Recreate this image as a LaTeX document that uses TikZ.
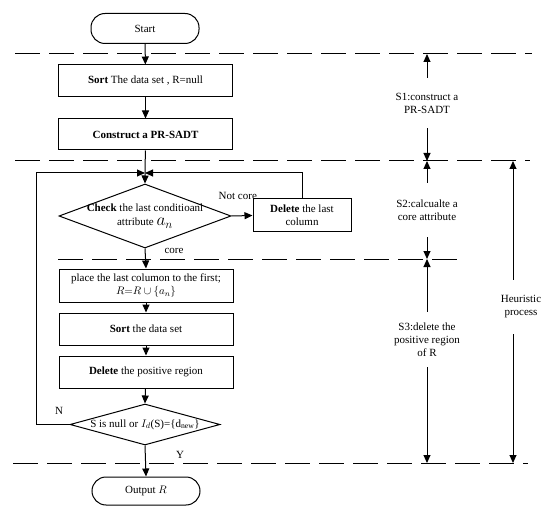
\documentclass[tikz,border=0pt]{standalone}
\usepackage{fontspec}
\setmainfont{Liberation Serif}
\usetikzlibrary{positioning, arrows.meta, shapes.geometric, calc}

\begin{document}
\begin{tikzpicture}[x=1pt, y=-1pt,
    every node/.style={font=\fontsize{11}{13}\selectfont},
    term/.style={draw, line width=1pt, rounded corners=14pt, minimum width=108pt, minimum height=30pt},
    proc/.style={draw, line width=1pt, minimum width=174pt, minimum height=32pt,
                 align=center, inner sep=1pt},
    decide/.style={draw, diamond, line width=1pt, inner sep=0pt},
    dtext/.style={align=center, inner sep=0pt},
    arr/.style={-{Triangle[length=8pt, width=7pt]}, line width=1pt},
    sepline/.style={line width=1pt, dash pattern=on 25pt off 9pt},
    ann/.style={align=center, inner sep=0pt},
    edgelbl/.style={inner sep=1pt},
]
\useasboundingbox (0,0) rectangle (550,519);

% Main flow
\node[term] (start) at (145,28.5) {Start};
\node[proc] (sort1) at (145.5,81) {\textbf{Sort} The data set , R=null};
\node[proc, minimum height=31pt] (build) at (145.5,134.5) {\textbf{Construct a PR-SADT}};

% Core check
\node[decide, minimum width=172pt, minimum height=64pt,
      label={[dtext]center:{\textbf{Check} the last conditioanl\\[1pt] attribute {\LARGE$a_n$}}}]
  (chk) at (145,216) {};
\node[proc, minimum width=98pt, minimum height=33pt] (dcol) at (302,215.5)
  {\textbf{Delete} the last\\ column};

% Positive region
\node[proc, minimum height=33pt] (place) at (146,285.5)
  {place the last columon to the first;\\ $R{=}R\cup\{a_n\}$};
\node[proc] (sort2) at (146,329) {\textbf{Sort} the data set};
\node[proc] (delpos) at (146,372) {\textbf{Delete} the positive region};
\node[decide, minimum width=150pt, minimum height=41pt,
      label={[dtext]center:{S is null or $I_d$(S)=\{d$_{\mathrm{new}}$\}}}]
  (stop) at (145,424.5) {};
\node[term, minimum height=28pt] (out) at (146,491) {Output $R$};

% Loop points
\coordinate (join) at (145,173);
\coordinate (lp) at (36,173);

% Arrows
\draw[arr] (start) -- (sort1);
\draw[arr] (sort1) -- (build);
\draw[arr] (build) -- (chk.north);
\draw[arr] (chk.east) -- (dcol.west) node[edgelbl, pos=0.3, above=15pt] {Not core};
\draw[arr] (dcol.north) |- (join);
\draw[arr] (chk.south) -- (place.north) node[edgelbl, pos=0.1, right=18pt] {core};
\draw[arr] (place) -- (sort2);
\draw[arr] (sort2) -- (delpos);
\draw[arr] (delpos) -- (stop.north);
\draw[arr] (stop.west) -| (lp) -- (join);
\node[edgelbl] (nlbl) at (59,411) {N};
\draw[arr] (stop.south) -- (out.north);
\node[edgelbl] (ylbl) at (180,455) {Y};

% Stage separators
\coordinate (a1) at (427,54);
\coordinate (a2) at (427,161);
\coordinate (a3) at (427,259);
\coordinate (a4) at (427,463);
\coordinate (h2) at (513,161);
\coordinate (h4) at (513,463);
\draw[sepline] (15,54) -- (532,54);
\draw[sepline] (15,161) -- (530,161);
\draw[sepline] (58,259) -- (462,259);
\draw[sepline] (13,463) -- (528,463);

% Stage notes
\node[ann, minimum height=50pt] (s1) at (427,103) {S1:construct a\\ PR-SADT};
\node[ann, minimum height=54pt] (s2) at (427,210) {S2:calcualte a\\ core attribute};
\node[ann, minimum height=55pt] (s3) at (427,339.5) {S3:delete the\\ positive region\\ of R};
\node[ann, minimum height=54pt] (heur) at (521,307) {Heuristic\\ process};
\draw[arr] (s1.north) -- (a1);
\draw[arr] (s1.south) -- (a2);
\draw[arr] (s2.north) -- (a2);
\draw[arr] (s2.south) -- (a3);
\draw[arr] (s3.north) -- (a3);
\draw[arr] (s3.south) -- (a4);
\draw[arr] (heur.north -| h2) -- (h2);
\draw[arr] (heur.south -| h4) -- (h4);
\end{tikzpicture}
\end{document}
